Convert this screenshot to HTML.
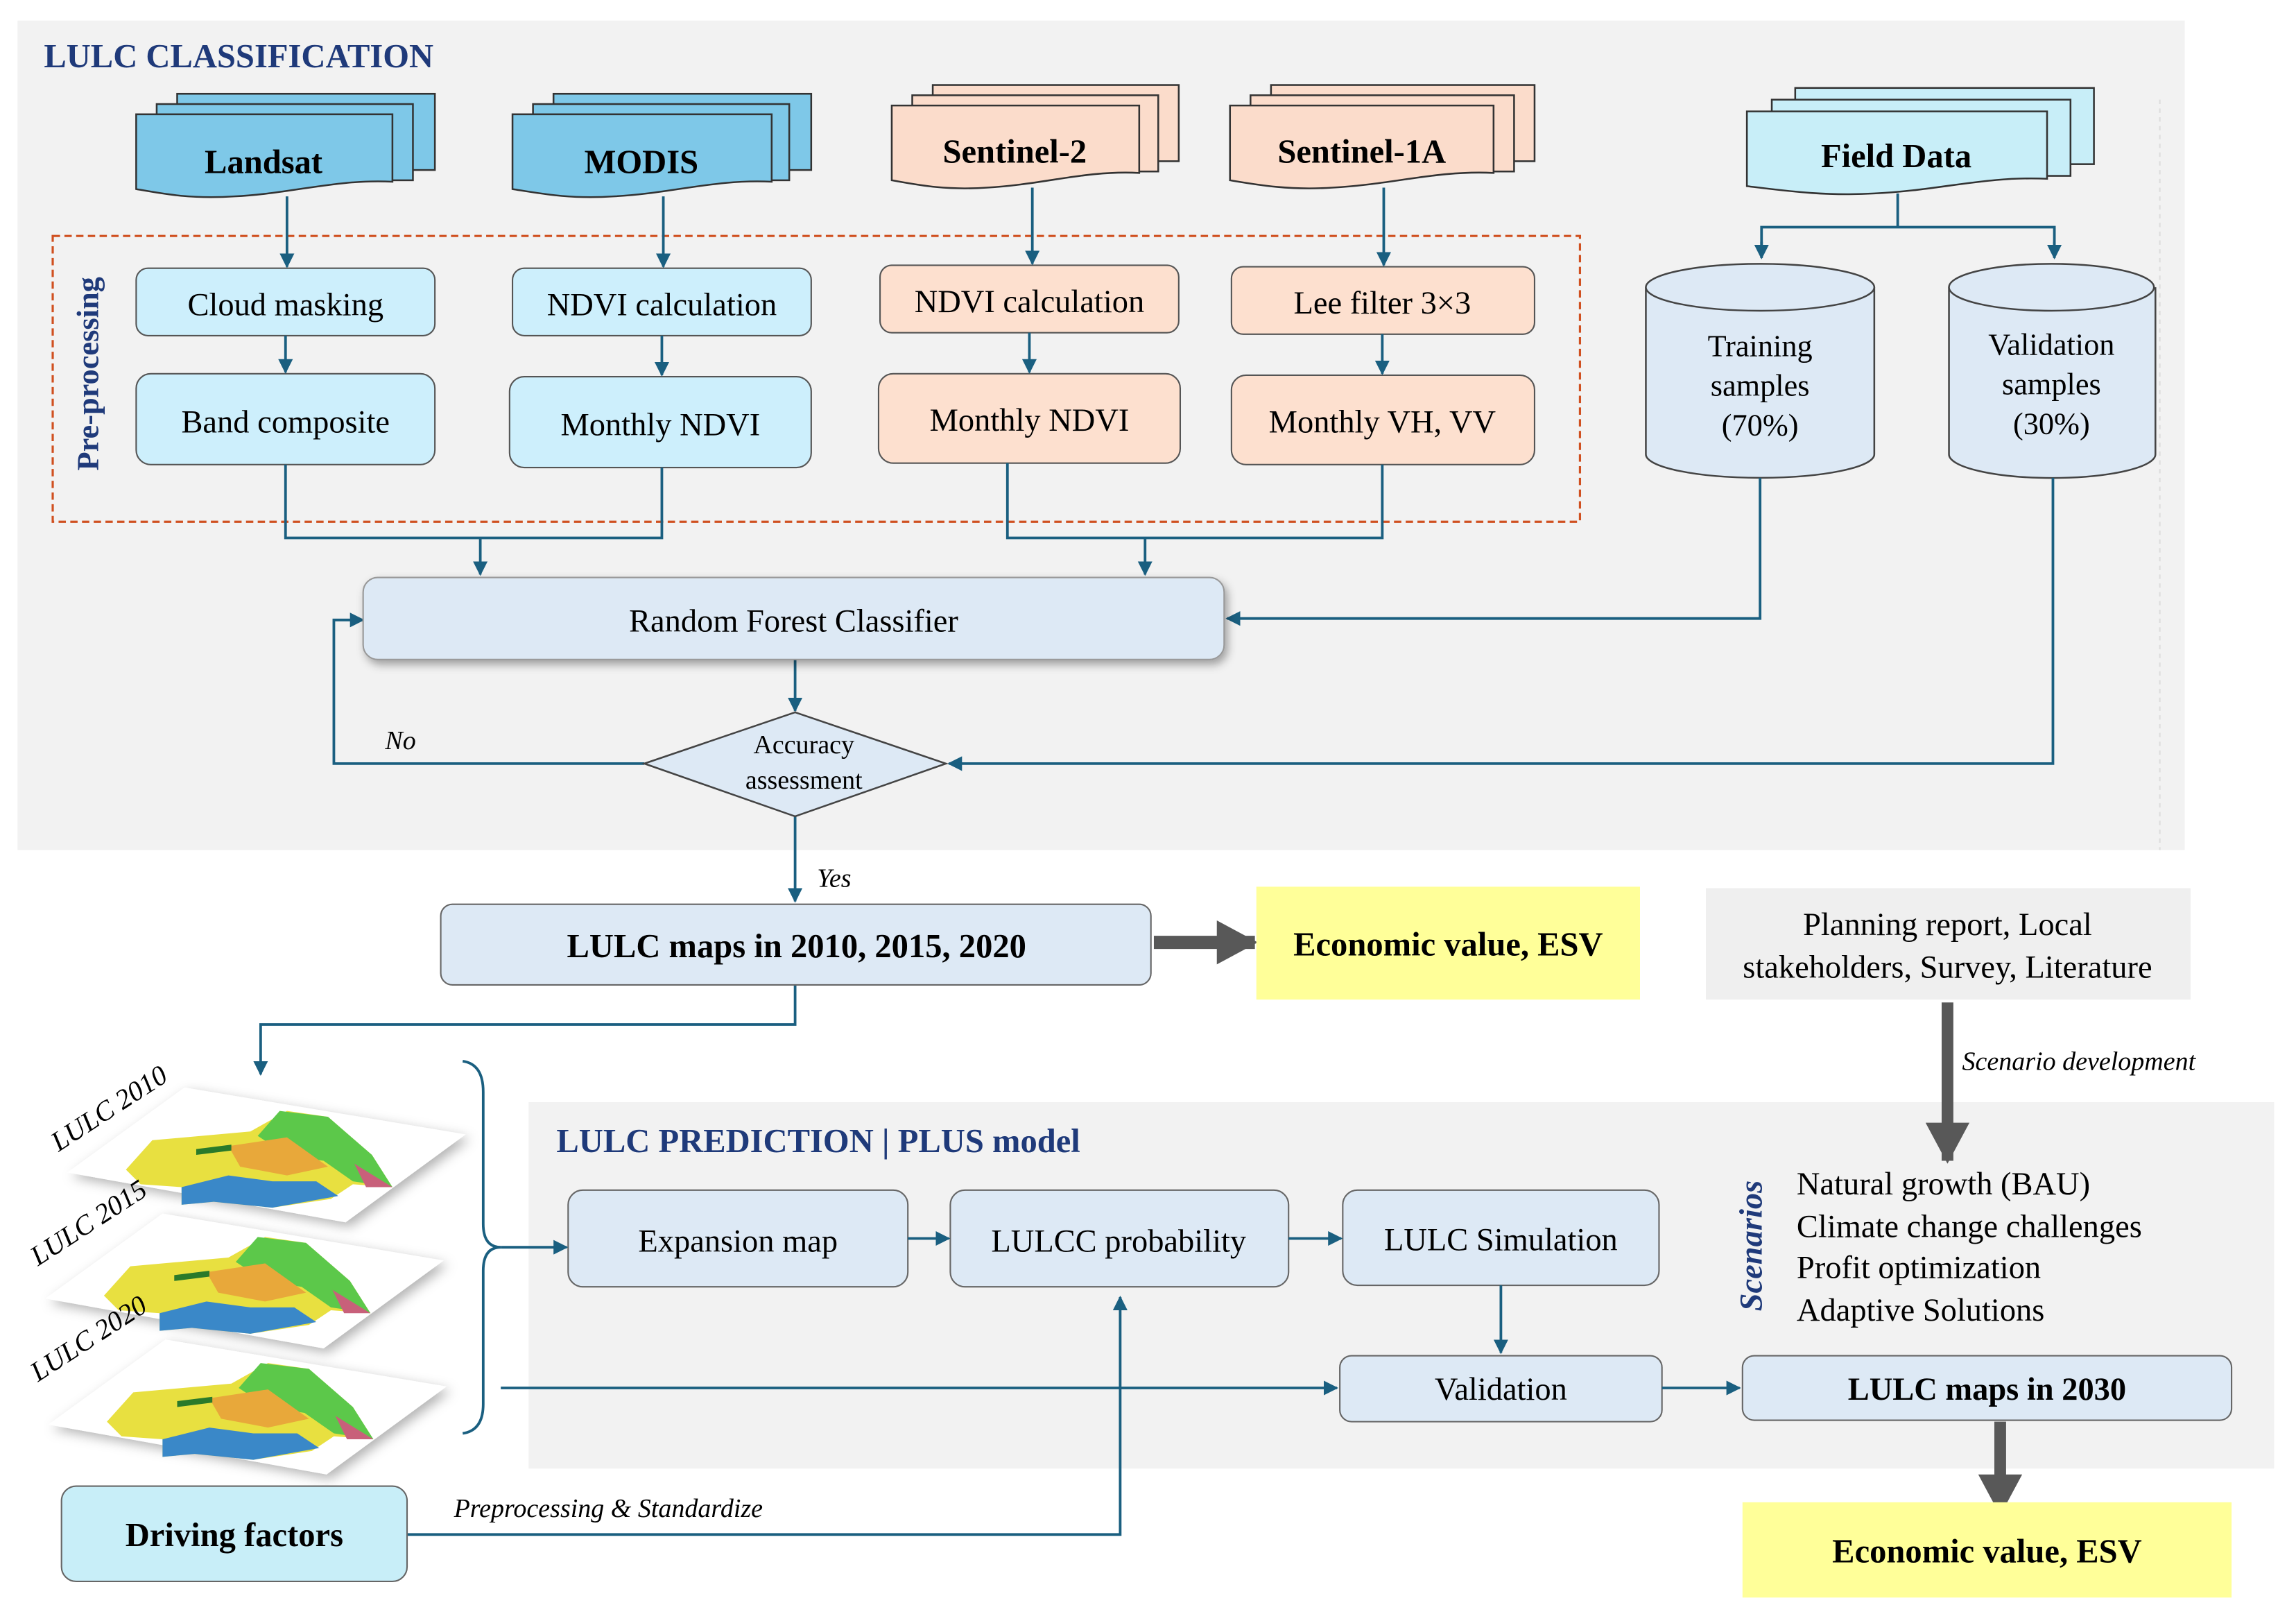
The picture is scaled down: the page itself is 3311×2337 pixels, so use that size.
<!DOCTYPE html>
<html><head><meta charset="utf-8"><style>html,body{margin:0;padding:0;background:#fff}svg{display:block}svg text{font-family:"Liberation Serif","DejaVu Serif",serif}</style></head>
<body>
<svg xmlns="http://www.w3.org/2000/svg" width="3311" height="2337" viewBox="0 0 1568 1106" preserveAspectRatio="none">
<defs>
<marker id="a" markerWidth="10" markerHeight="10" refX="9" refY="5" orient="auto" markerUnits="userSpaceOnUse"><path d="M0,0 L10,5 L0,10 Z" fill="#1a5f80"/></marker>
<marker id="g" markerWidth="28" markerHeight="30" refX="26" refY="15" orient="auto" markerUnits="userSpaceOnUse"><path d="M0,0 L28,15 L0,30 Z" fill="#585858"/></marker>
<filter id="sh" x="-5%" y="-20%" width="110%" height="150%"><feDropShadow dx="2" dy="3" stdDeviation="3" flood-color="#000" flood-opacity="0.35"/></filter>
<filter id="sh2" x="-10%" y="-20%" width="130%" height="150%"><feDropShadow dx="3" dy="3" stdDeviation="4" flood-color="#000" flood-opacity="0.3"/></filter>
<g id="map">
<polygon points="0,0 80,-58 272,-26 190,34" fill="#fff" filter="url(#sh2)"/>
<path d="M40,-2 L58,-22 L125,-28 L150,-42 L178,-38 L208,-12 L222,10 L195,8 L180,18 L140,24 L100,20 L78,22 L78,10 L50,8 Z" fill="#e8e040"/>
<path d="M145,-42 L178,-38 L208,-12 L222,10 L195,6 L175,-8 L150,-12 L130,-25 Z" fill="#5cc84a"/>
<path d="M78,10 L110,2 L140,6 L170,6 L185,16 L140,24 L100,20 L78,22 Z" fill="#3a88c8"/>
<path d="M110,-18 L150,-24 L178,-4 L150,2 L118,-4 Z" fill="#e8a83a"/>
<path d="M196,-6 L222,10 L204,10 Z" fill="#c8607a"/>
<path d="M88,-16 L112,-19 L112,-15 L88,-12 Z" fill="#2a7a2a"/>
</g>
</defs>

<rect x="12" y="14" width="1480" height="566" fill="#f2f2f2"/>
<line x1="1475" y1="68" x2="1475" y2="580" stroke="#ddd" stroke-dasharray="3,3"/>
<text x="30" y="46" font-size="23" font-weight="bold" fill="#1f3a7a">LULC CLASSIFICATION</text>

<g stroke="#333" stroke-width="1.2">
<rect x="121" y="64" width="176" height="52" fill="#7ec8e8"/>
<rect x="107" y="71" width="175" height="52" fill="#7ec8e8"/>
<path d="M93,78 H268 V124 C230,122 200,132 160,134 C130,136 110,132 93,129 Z" fill="#7ec8e8"/>
<rect x="378" y="64" width="176" height="52" fill="#7ec8e8"/>
<rect x="364" y="71" width="175" height="52" fill="#7ec8e8"/>
<path d="M350,78 H527 V124 C489,122 459,132 419,134 C389,136 369,132 350,129 Z" fill="#7ec8e8"/>
<rect x="637" y="58" width="168" height="52" fill="#fbdccb"/>
<rect x="623" y="65" width="168" height="52" fill="#fbdccb"/>
<path d="M609,72 H778 V118 C742,116 712,126 674,128 C645,130 626,126 609,123 Z" fill="#fbdccb"/>
<rect x="868" y="58" width="180" height="52" fill="#fbdccb"/>
<rect x="854" y="65" width="180" height="52" fill="#fbdccb"/>
<path d="M840,72 H1020 V118 C982,116 950,126 910,128 C880,130 858,126 840,123 Z" fill="#fbdccb"/>
<rect x="1226" y="60" width="204" height="52" fill="#c8eef8"/>
<rect x="1210" y="68" width="204" height="52" fill="#c8eef8"/>
<path d="M1193,76 H1398 V122 C1356,120 1324,130 1280,132 C1246,134 1218,130 1193,127 Z" fill="#c8eef8"/>
</g>
<g font-size="23" font-weight="bold" text-anchor="middle">
<text x="180" y="118">Landsat</text>
<text x="438" y="118">MODIS</text>
<text x="693" y="111">Sentinel-2</text>
<text x="930" y="111">Sentinel-1A</text>
<text x="1295" y="114">Field Data</text>
</g>

<rect x="36" y="161" width="1043" height="195" fill="none" stroke="#d05020" stroke-width="1.5" stroke-dasharray="5,3"/>
<text transform="translate(67,255) rotate(-90)" text-anchor="middle" font-size="21" font-weight="bold" fill="#1f3a7a">Pre-processing</text>
<g stroke="#555" stroke-width="1">
<rect x="93" y="183" width="204" height="46" rx="8" fill="#cdeffc"/>
<rect x="93" y="255" width="204" height="62" rx="10" fill="#cdeffc"/>
<rect x="350" y="183" width="204" height="46" rx="8" fill="#cdeffc"/>
<rect x="348" y="257" width="206" height="62" rx="10" fill="#cdeffc"/>
<rect x="601" y="181" width="204" height="46" rx="8" fill="#fde0cf"/>
<rect x="600" y="255" width="206" height="61" rx="10" fill="#fde0cf"/>
<rect x="841" y="182" width="207" height="46" rx="8" fill="#fde0cf"/>
<rect x="841" y="256" width="207" height="61" rx="10" fill="#fde0cf"/>
</g>
<g font-size="22" text-anchor="middle">
<text x="195" y="215">Cloud masking</text>
<text x="195" y="295">Band composite</text>
<text x="452" y="215">NDVI calculation</text>
<text x="451" y="297">Monthly NDVI</text>
<text x="703" y="213">NDVI calculation</text>
<text x="703" y="294">Monthly NDVI</text>
<text x="944" y="214">Lee filter 3×3</text>
<text x="944" y="295">Monthly VH, VV</text>
</g>

<g stroke="#444" stroke-width="1.2" fill="#dde9f5">
<path d="M1124,196 V310 A78,16 0 0 0 1280,310 V196"/>
<ellipse cx="1202" cy="196" rx="78" ry="16"/>
<path d="M1331,196 V310 A70,16 0 0 0 1472,310 V196"/>
<ellipse cx="1401" cy="196" rx="70" ry="16"/>
</g>
<g font-size="21" text-anchor="middle">
<text x="1202" y="243">Training</text><text x="1202" y="270">samples</text><text x="1202" y="297">(70%)</text>
<text x="1401" y="242">Validation</text><text x="1401" y="269">samples</text><text x="1401" y="296">(30%)</text>
</g>

<g stroke="#1a5f80" stroke-width="1.8" fill="none">
<line x1="196" y1="134" x2="196" y2="182" marker-end="url(#a)"/>
<line x1="453" y1="134" x2="453" y2="182" marker-end="url(#a)"/>
<line x1="705" y1="128" x2="705" y2="180" marker-end="url(#a)"/>
<line x1="945" y1="128" x2="945" y2="181" marker-end="url(#a)"/>
<line x1="195" y1="229" x2="195" y2="254" marker-end="url(#a)"/>
<line x1="452" y1="229" x2="452" y2="256" marker-end="url(#a)"/>
<line x1="703" y1="227" x2="703" y2="254" marker-end="url(#a)"/>
<line x1="944" y1="228" x2="944" y2="255" marker-end="url(#a)"/>
<polyline points="195,317 195,367 452,367 452,319"/>
<line x1="328" y1="367" x2="328" y2="392" marker-end="url(#a)"/>
<polyline points="688,316 688,367 944,367 944,317"/>
<line x1="782" y1="367" x2="782" y2="392" marker-end="url(#a)"/>
<line x1="1296" y1="132" x2="1296" y2="155"/>
<polyline points="1203,174 1203,155 1403,155 1403,174"/>
<line x1="1203" y1="165" x2="1203" y2="176" marker-end="url(#a)"/>
<line x1="1403" y1="165" x2="1403" y2="176" marker-end="url(#a)"/>
<polyline points="1202,326 1202,422 838,422" marker-end="url(#a)"/>
<line x1="543" y1="450" x2="543" y2="485" marker-end="url(#a)"/>
<polyline points="440,521 228,521 228,423 248,423" marker-end="url(#a)"/>
<polyline points="1402,326 1402,521 648,521" marker-end="url(#a)"/>
<line x1="543" y1="557" x2="543" y2="615" marker-end="url(#a)"/>
<polyline points="543,672 543,699 178,699 178,733" marker-end="url(#a)"/>
</g>

<rect x="248" y="394" width="588" height="56" rx="10" fill="#dde9f5" stroke="#999" filter="url(#sh)"/>
<text x="542" y="431" font-size="22" text-anchor="middle">Random Forest Classifier</text>
<polygon points="440,521 543,486 646,521 543,557" fill="#dde9f5" stroke="#444" stroke-width="1.2"/>
<text x="549" y="514" font-size="18" text-anchor="middle">Accuracy</text>
<text x="549" y="538" font-size="18" text-anchor="middle">assessment</text>
<text x="263" y="511" font-size="18" font-style="italic">No</text>
<text x="558" y="605" font-size="18" font-style="italic">Yes</text>

<rect x="301" y="617" width="485" height="55" rx="8" fill="#dde9f5" stroke="#666"/>
<text x="544" y="653" font-size="23" font-weight="bold" text-anchor="middle">LULC maps in 2010, 2015, 2020</text>
<line x1="788" y1="643" x2="857" y2="643" stroke="#585858" stroke-width="9" marker-end="url(#g)"/>
<rect x="858" y="605" width="262" height="77" fill="#ffff99"/>
<text x="989" y="652" font-size="23" font-weight="bold" text-anchor="middle">Economic value, ESV</text>
<rect x="1165" y="606" width="331" height="76" fill="#efefef"/>
<text x="1330" y="638" font-size="22" text-anchor="middle">Planning report, Local</text>
<text x="1330" y="667" font-size="22" text-anchor="middle">stakeholders, Survey, Literature</text>

<rect x="361" y="752" width="1192" height="250" fill="#f2f2f2"/>
<line x1="1330" y1="684" x2="1330" y2="792" stroke="#585858" stroke-width="8" marker-end="url(#g)"/>
<text x="1340" y="730" font-size="18" font-style="italic">Scenario development</text>
<text x="380" y="786" font-size="23" font-weight="bold" fill="#1f3a7a">LULC PREDICTION | PLUS model</text>
<text transform="translate(1203,850) rotate(-90)" text-anchor="middle" font-size="22" font-weight="bold" font-style="italic" fill="#1f3a7a">Scenarios</text>
<g font-size="22">
<text x="1227" y="815">Natural growth (BAU)</text>
<text x="1227" y="844">Climate change challenges</text>
<text x="1227" y="872">Profit optimization</text>
<text x="1227" y="901">Adaptive Solutions</text>
</g>

<use href="#map" transform="translate(46,800)"/>
<use href="#map" transform="translate(31,886)"/>
<use href="#map" transform="translate(33,972)"/>
<g font-size="19" font-style="italic">
<text transform="translate(40,786) rotate(-33)">LULC 2010</text>
<text transform="translate(26,864) rotate(-33)">LULC 2015</text>
<text transform="translate(26,943) rotate(-33)">LULC 2020</text>
</g>
<path d="M316,724 Q330,726 330,745 V835 Q330,851 342,851 Q330,851 330,867 V958 Q330,976 316,978" fill="none" stroke="#1a5f80" stroke-width="1.8"/>

<g stroke="#666" stroke-width="1" fill="#dde9f5">
<rect x="388" y="812" width="232" height="66" rx="10"/>
<rect x="649" y="812" width="231" height="66" rx="10"/>
<rect x="917" y="812" width="216" height="65" rx="10"/>
<rect x="915" y="925" width="220" height="45" rx="8"/>
<rect x="1190" y="925" width="334" height="44" rx="8"/>
</g>
<g font-size="22" text-anchor="middle">
<text x="504" y="854">Expansion map</text>
<text x="764" y="854">LULCC probability</text>
<text x="1025" y="853">LULC Simulation</text>
<text x="1025" y="955">Validation</text>
</g>
<text x="1357" y="955" font-size="22" font-weight="bold" text-anchor="middle">LULC maps in 2030</text>

<g stroke="#1a5f80" stroke-width="1.8" fill="none">
<line x1="342" y1="851" x2="387" y2="851" marker-end="url(#a)"/>
<line x1="620" y1="845" x2="648" y2="845" marker-end="url(#a)"/>
<line x1="880" y1="845" x2="916" y2="845" marker-end="url(#a)"/>
<line x1="1025" y1="877" x2="1025" y2="923" marker-end="url(#a)"/>
<line x1="342" y1="947" x2="913" y2="947" marker-end="url(#a)"/>
<line x1="1135" y1="947" x2="1188" y2="947" marker-end="url(#a)"/>
<polyline points="278,1047 765,1047 765,885" marker-end="url(#a)"/>
</g>
<line x1="1366" y1="970" x2="1366" y2="1032" stroke="#585858" stroke-width="8" marker-end="url(#g)"/>
<rect x="1190" y="1025" width="334" height="65" fill="#ffff99"/>
<text x="1357" y="1066" font-size="23" font-weight="bold" text-anchor="middle">Economic value, ESV</text>
<rect x="42" y="1014" width="236" height="65" rx="10" fill="#c8eef8" stroke="#666"/>
<text x="160" y="1055" font-size="23" font-weight="bold" text-anchor="middle">Driving factors</text>
<text x="310" y="1035" font-size="18" font-style="italic">Preprocessing &amp; Standardize</text>
</svg>
</body></html>
